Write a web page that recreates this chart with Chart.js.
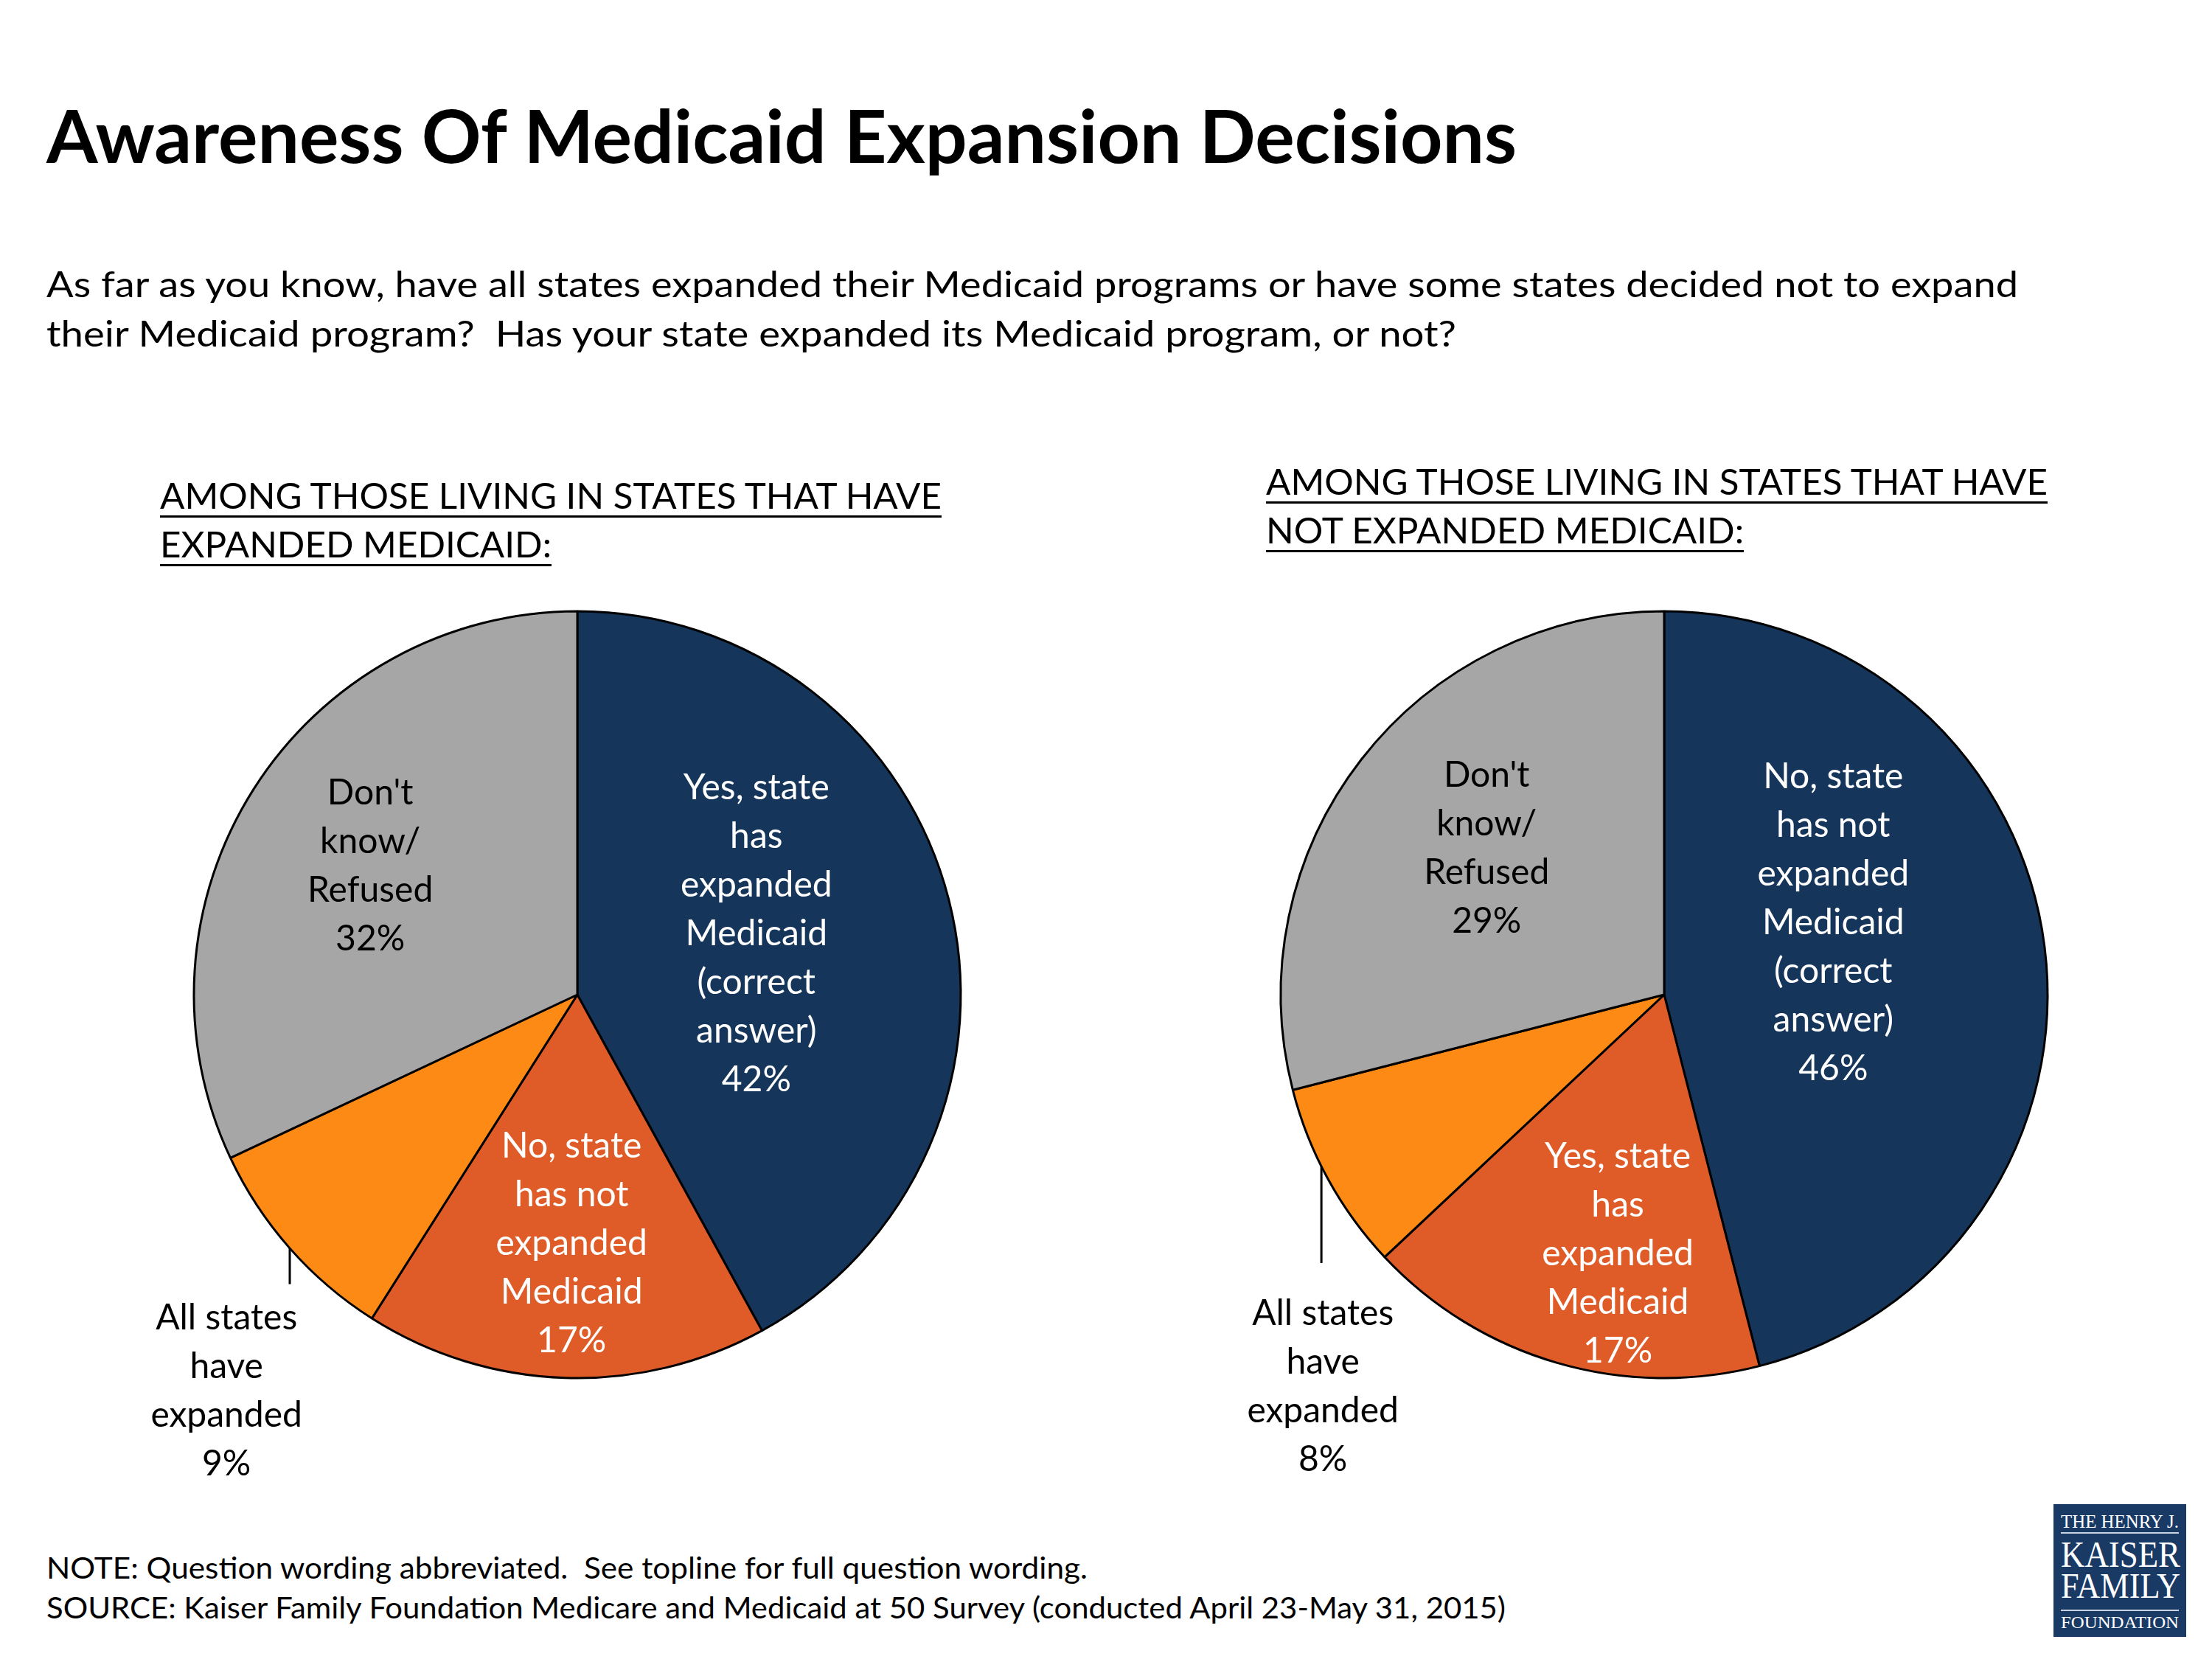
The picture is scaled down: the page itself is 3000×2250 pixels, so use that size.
<!DOCTYPE html>
<html>
<head>
<meta charset="utf-8">
<script src="https://cdn.jsdelivr.net/npm/chart.js@4.4.1/dist/chart.umd.min.js"></script>
<style>
    html, body { margin: 0; padding: 0; background: #fff; }
    body { width: 3000px; height: 2250px; position: relative; overflow: hidden; font-family: Lato, 'Open Sans', sans-serif; color: #000; }
    .t { position: absolute; white-space: pre; line-height: 1; transform-origin: 0 0; }
    .hd { text-decoration: underline; text-decoration-thickness: 3px; text-underline-offset: 9px; }
    canvas { position: absolute; }
    .lbl { position: absolute; text-align: center; font-size: 48px; line-height: 66px; white-space: nowrap; transform: translate(-50%, -50%); }
    .logo { position: absolute; left: 2785px; top: 2040px; width: 180px; height: 180px; background: #1a3a66; }
    .logo-rule { position: absolute; left: 2795px; width: 160px; height: 2px; background: #c9d2e0; }
    .serif { font-family: 'Liberation Serif', 'DejaVu Serif', serif; color: #fff; }
</style>
</head>
<body>

<div class="t" data-b="221" data-w="1994" style="left:63px;font-size:99px;font-weight:700">Awareness Of Medicaid Expansion Decisions</div>

<div class="t" data-b="403" data-w="2674" style="left:63px;font-size:48px">As far as you know, have all states expanded their Medicaid programs or have some states decided not to expand</div>
<div class="t" data-b="470" data-w="1912" style="left:63px;font-size:48px">their Medicaid program?  Has your state expanded its Medicaid program, or not?</div>

<div class="t hd" data-b="690" data-w="1060" style="left:217px;font-size:48px">AMONG THOSE LIVING IN STATES THAT HAVE</div>
<div class="t hd" data-b="756" data-w="531" style="left:217px;font-size:48px">EXPANDED MEDICAID:</div>
<div class="t hd" data-b="671" data-w="1060" style="left:1717px;font-size:48px">AMONG THOSE LIVING IN STATES THAT HAVE</div>
<div class="t hd" data-b="737" data-w="648" style="left:1717px;font-size:48px">NOT EXPANDED MEDICAID:</div>

<canvas id="expandedPie" width="1380" height="1300" style="left:100px;top:790px"></canvas>
<canvas id="notExpandedPie" width="1380" height="1300" style="left:1570px;top:790px"></canvas>

<div class="t" data-b="2141" data-w="1412" style="left:63px;font-size:40px">NOTE: Question wording abbreviated.  See topline for full question wording.</div>
<div class="t" data-b="2195" data-w="1979" style="left:63px;font-size:40px">SOURCE: Kaiser Family Foundation Medicare and Medicaid at 50 Survey (conducted April 23-May 31, 2015)</div>

<div class="logo"></div>
<div class="logo-rule" style="top:2078px"></div>
<div class="logo-rule" style="top:2183px"></div>
<div class="t serif" data-b="2072" data-w="160" style="left:2795px;font-size:26px">THE HENRY J.</div>
<div class="t serif" data-b="2125" data-w="162" style="left:2795px;font-size:50px">KAISER</div>
<div class="t serif" data-b="2167" data-w="162" style="left:2795px;font-size:49px">FAMILY</div>
<div class="t serif" data-b="2208" data-w="160" style="left:2795px;font-size:23px">FOUNDATION</div>

<script>
// data
const expandedLabels = [
    ['Yes, state', 'has', 'expanded', 'Medicaid', '(correct', 'answer)'],
    ['No, state', 'has not', 'expanded', 'Medicaid'],
    ['All states', 'have', 'expanded'],
    ["Don't", 'know/', 'Refused']
];
const expandedValues = [42, 17, 9, 32];

const notExpandedLabels = [
    ['No, state', 'has not', 'expanded', 'Medicaid', '(correct', 'answer)'],
    ['Yes, state', 'has', 'expanded', 'Medicaid'],
    ['All states', 'have', 'expanded'],
    ["Don't", 'know/', 'Refused']
];
const notExpandedValues = [46, 17, 8, 29];

const SLICE_COLORS = ['#16355a', '#df5c28', '#fd8a14', '#a6a6a6'];
const LABEL_COLORS = ['#fff', '#fff', '#000', '#000'];
const BORDER = 3;

// text placement: baseline + width fitting
document.querySelectorAll('.t').forEach(el => {
    const probe = document.createElement('span');
    probe.style.cssText = 'display:inline-block;width:0;height:0;vertical-align:baseline';
    el.appendChild(probe);
    const baseOff = probe.offsetTop;
    el.removeChild(probe);
    el.style.top = (parseFloat(el.dataset.b) - baseOff) + 'px';
    const w = el.getBoundingClientRect().width;
    if (el.dataset.w && w > 0) el.style.transform = `scaleX(${parseFloat(el.dataset.w) / w})`;
});

const pieExtras = {
    id: 'pieExtras',
    afterDraw(chart, args, opts) {
        const meta = chart.getDatasetMeta(0);
        const canvas = chart.canvas;
        const ox = canvas.offsetLeft, oy = canvas.offsetTop;

        if (!chart.$labelsDone) {
            meta.data.forEach((arc, i) => {
                const p = opts.positions[i];
                const div = document.createElement('div');
                div.className = 'lbl';
                div.style.color = LABEL_COLORS[i];
                div.style.left = (ox + arc.x + p.dx * arc.outerRadius) + 'px';
                div.style.top = (oy + arc.y + p.dy * arc.outerRadius) + 'px';
                const lines = chart.data.labels[i].concat([chart.data.datasets[0].data[i] + '%']);
                div.innerHTML = lines.join('<br>');
                document.body.appendChild(div);
            });
            chart.$labelsDone = true;
        }

        const l = opts.leader;
        const arc = meta.data[l.index];
        const r = arc.outerRadius;
        const x = arc.x + l.dx * r;
        const ctx = chart.ctx;
        ctx.save();
        ctx.strokeStyle = '#000';
        ctx.lineWidth = 3;
        ctx.beginPath();
        ctx.moveTo(x, arc.y + Math.sqrt(1 - l.dx * l.dx) * r);
        ctx.lineTo(x, arc.y + l.bottom * r);
        ctx.stroke();
        ctx.restore();
    }
};

function renderPie(canvasId, labels, values, cx, cy, radius, positions, leader) {
    const canvas = document.getElementById(canvasId);
    const left = parseFloat(canvas.style.left), top = parseFloat(canvas.style.top);
    const side = 2 * radius + BORDER;
    const padLeft = cx - side / 2 - left;
    const padTop = cy - side / 2 - top;

    return new Chart(canvas.getContext('2d'), {
        type: 'pie',
        data: {
            labels: labels,
            datasets: [{
                data: values,
                backgroundColor: SLICE_COLORS,
                borderColor: '#000',
                borderWidth: BORDER,
                hoverBorderWidth: BORDER,
                borderAlign: 'center'
            }]
        },
        options: {
            responsive: false,
            animation: false,
            events: [],
            layout: {
                padding: {
                    left: padLeft,
                    top: padTop,
                    right: canvas.width - padLeft - side,
                    bottom: canvas.height - padTop - side
                }
            },
            plugins: {
                legend: { display: false },
                tooltip: { enabled: false },
                pieExtras: { positions: positions, leader: leader }
            }
        },
        plugins: [pieExtras]
    });
}

renderPie('expandedPie', expandedLabels, expandedValues, 783, 1349, 520,
    [{ dx: 0.467, dy: -0.164 }, { dx: -0.015, dy: 0.645 }, { dx: -0.915, dy: 1.028 }, { dx: -0.54, dy: -0.34 }],
    { index: 2, dx: -0.75, bottom: 0.755 });

renderPie('notExpandedPie', notExpandedLabels, notExpandedValues, 2257, 1349, 520,
    [{ dx: 0.441, dy: -0.193 }, { dx: -0.121, dy: 0.671 }, { dx: -0.89, dy: 1.017 }, { dx: -0.463, dy: -0.386 }],
    { index: 2, dx: -0.894, bottom: 0.70 });
</script>
</body>
</html>
